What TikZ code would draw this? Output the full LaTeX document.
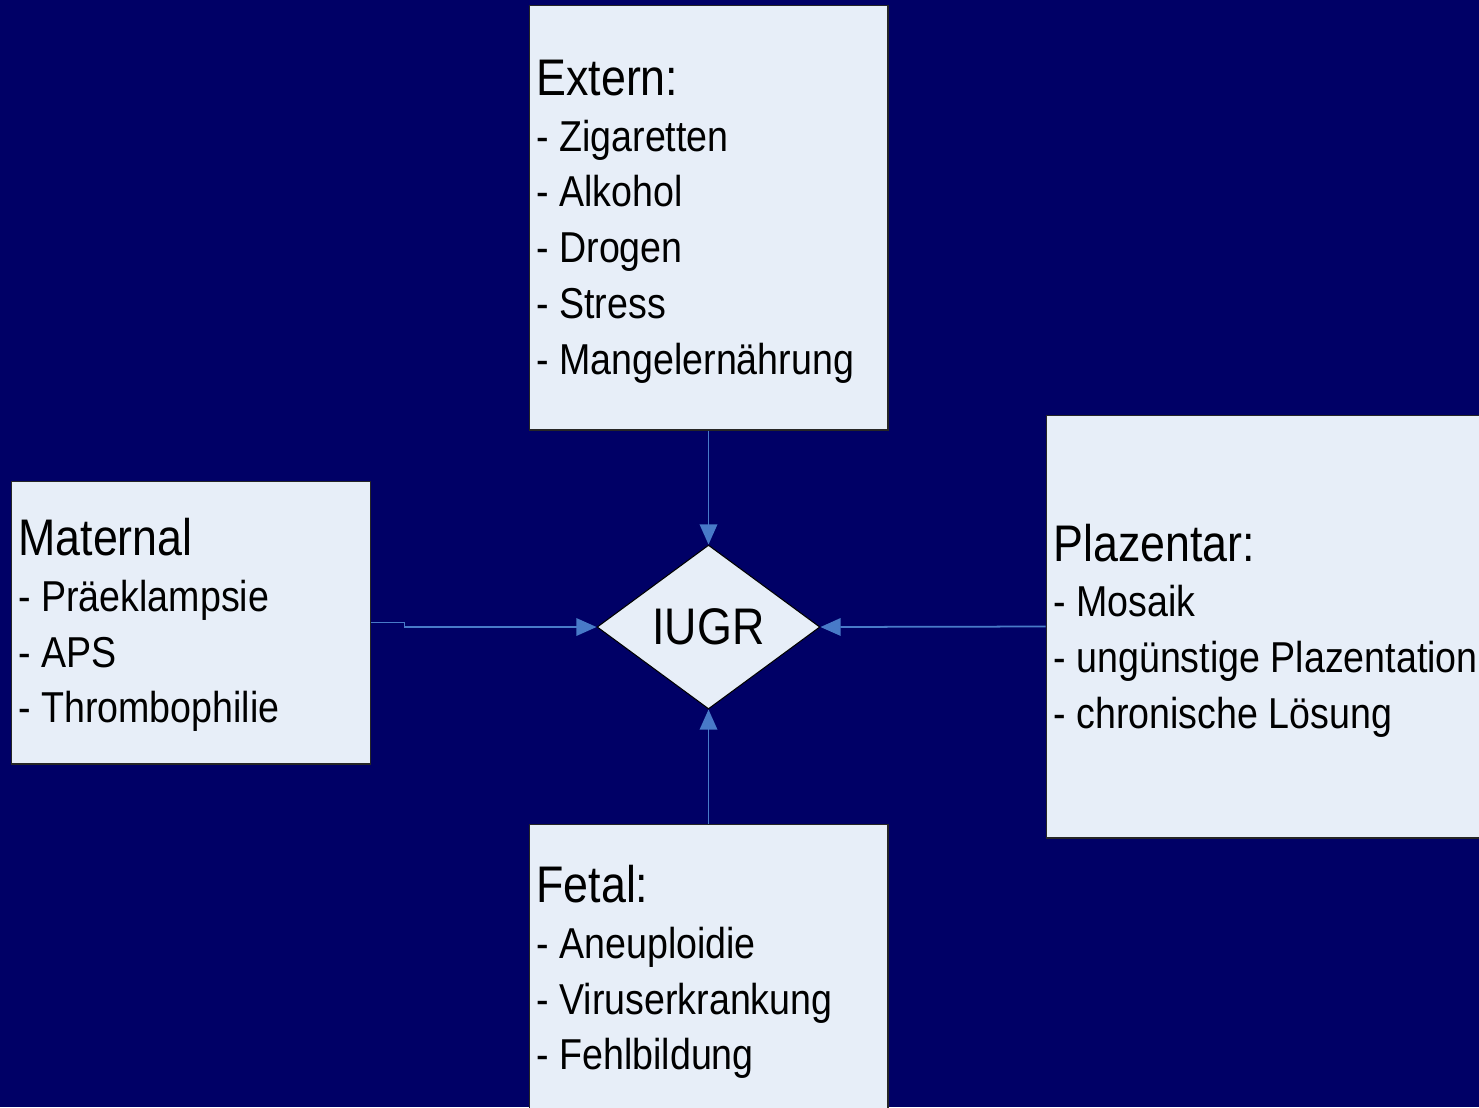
\documentclass[tikz,border=0pt]{standalone}
\usepackage{fontspec}
\setmainfont[FakeStretch=0.87]{Liberation Sans}
\usetikzlibrary{shapes.geometric, arrows.meta}
\definecolor{navy}{RGB}{0,0,102}
\definecolor{boxfill}{RGB}{231,238,248}
\definecolor{linkblue}{RGB}{72,122,200}
\tikzset{>={Triangle[length=11.5pt,width=10pt]}}
\newcommand{\hd}{\fontsize{29.3}{36}\selectfont}

\begin{document}
\begin{tikzpicture}[x=0.02cm, y=-0.02cm,
    cause/.style={draw=black!85, line width=0.6pt, fill=boxfill, inner sep=0pt},
    causetext/.style={anchor=west, align=left, inner sep=0pt,
        font=\fontsize{24.6}{31.7}\selectfont},
    link/.style={draw=linkblue, line width=1pt, ->}]
    \useasboundingbox (0,0) rectangle (1479,1107);
    \fill[navy] (0,0) rectangle (1479,1107);
    \clip (0,0) rectangle (1479,1107);

    % the four groups of causes
    \node[cause, minimum width=7.18cm, minimum height=8.5cm] (ext) at (708.5,217.5) {};
    \node[cause, minimum width=7.2cm, minimum height=5.66cm] (mat) at (191,622.5) {};
    \node[cause, minimum width=9cm, minimum height=8.46cm] (plz) at (1271,626.5) {};
    \node[cause, minimum width=7.18cm, minimum height=5.76cm] (fet) at (708.5,968) {};

    \node[causetext] at ([xshift=4.3pt, yshift=-2.3pt]ext.west) {{\hd Extern:}\\- Zigaretten\\- Alkohol\\- Drogen\\- Stress\\- Mangelern\"ahrung};
    \node[causetext] at ([xshift=4.3pt, yshift=-1.5pt]mat.west) {{\hd Maternal}\\- Pr\"aeklampsie\\- APS\\- Thrombophilie};
    \node[causetext] at ([xshift=4.3pt, yshift=-2.3pt]plz.west) {{\hd Plazentar:}\\- Mosaik\\- ung\"unstige Plazentation\\- chronische L\"osung};
    \node[causetext] at ([xshift=4.3pt, yshift=-2.3pt]fet.west) {{\hd Fetal:}\\- Aneuploidie\\- Viruserkrankung\\- Fehlbildung};

    % IUGR in the middle
    \node[diamond, draw=black, line width=0.6pt, fill=boxfill, inner sep=0pt,
        minimum width=4.46cm, minimum height=3.28cm, font=\hd] (iugr) at (708.5,627) {IUGR};

    \draw[link] (ext.south) -- (iugr.north);
    \draw[link] (fet.north) -- (iugr.south);
    \draw[link] (plz.west) -- (iugr.east);
    \draw[link] (mat.east) -- ++(33,0) |- (iugr.west);
\end{tikzpicture}
\end{document}
